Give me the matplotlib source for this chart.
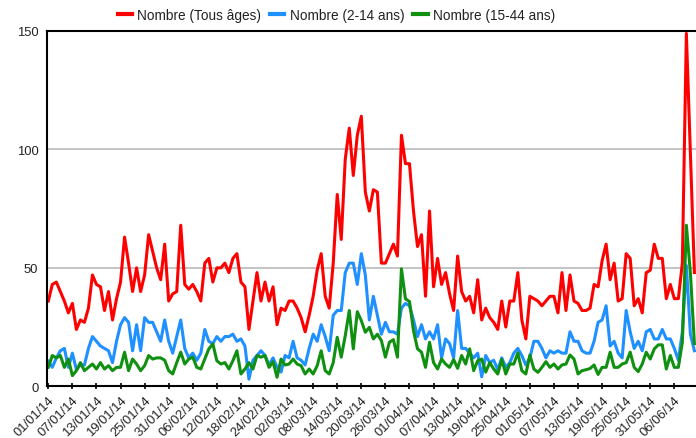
import numpy as np
import matplotlib
matplotlib.use("Agg")
import matplotlib.pyplot as plt

plt.rcParams['font.family'] = ['Liberation Sans', 'DejaVu Sans']

series_names = ["Nombre (Tous âges)", "Nombre (2-14 ans)", "Nombre (15-44 ans)"]

tous_ages = [36, 43, 44, 40, 36, 31, 35, 24, 28, 27, 33, 47, 43, 42, 32, 40, 28, 37, 44, 63,
             52, 40, 50, 40, 47, 64, 57, 50, 45, 60, 36, 39, 40, 68, 43, 41, 43, 40, 36, 52,
             54, 44, 50, 50, 52, 48, 54, 56, 44, 42, 24, 36, 48, 36, 44, 36, 42, 26, 33, 32,
             36, 36, 33, 29, 23, 30, 38, 49, 56, 38, 33, 52, 81, 62, 96, 109, 89, 106, 114, 82,
             74, 83, 82, 52, 52, 56, 60, 55, 106, 94, 94, 74, 59, 64, 38, 74, 42, 54, 43, 48,
             39, 32, 55, 40, 36, 38, 31, 45, 28, 33, 29, 27, 24, 36, 25, 36, 36, 48, 28, 20,
             38, 37, 36, 34, 36, 38, 38, 31, 48, 32, 47, 36, 35, 32, 32, 33, 43, 42, 53, 60,
             45, 52, 36, 37, 56, 54, 34, 37, 31, 48, 49, 60, 54, 54, 37, 43, 37, 37, 52, 149,
             98, 48]

ans_2_14 = [10.6, 8, 12, 15, 16, 8, 14, 7, 9, 9, 16, 21, 19, 17, 16, 15, 10, 19, 26, 29,
            27, 15, 26, 15, 29, 27, 27, 23, 19, 28, 19, 14, 21, 28, 16, 12, 14, 11, 14, 24,
            19, 18, 21, 19, 21, 21, 22, 19, 20, 17, 3, 11, 13, 15, 13, 9, 12, 8, 6, 13,
            12, 19, 12, 11, 9, 16, 22, 19, 26, 21, 15, 30, 32, 32, 48, 52, 52, 43, 56, 47,
            28, 38, 30, 22, 27, 23, 23, 22, 33, 35, 34, 28, 21, 26, 20, 23, 20, 26, 12, 20,
            18, 12, 32, 16, 16, 14, 12, 14, 4, 13, 10, 11, 7, 12, 8, 10, 14, 16, 13, 9,
            12, 19, 19, 16, 12, 15, 14, 15, 14, 14, 23, 19, 19, 15, 14, 14, 19, 27, 28, 34,
            17, 19, 14, 12, 32, 23, 16, 19, 15, 23, 24, 20, 20, 24, 20, 20, 16, 11, 23, 51,
            22, 15]

ans_15_44 = [8, 13, 12, 13, 8, 11.5, 4.5, 6.6, 10, 6.6, 8, 9.4, 7.3, 10, 7.3, 8.7, 6.6, 8, 8, 14.4,
             6.6, 11.5, 9.4, 6.6, 8.7, 13, 11.5, 12, 12, 11, 6.6, 5.2, 10, 14.4, 9.4, 11.5, 12.3, 8, 7.3, 11.5,
             15.8, 17.9, 10.8, 9.4, 10, 7.3, 10.8, 15, 5.2, 7.3, 10, 7.3, 13, 12.3, 13, 8, 10.4, 3.8, 11.5, 9,
             9.4, 11.5, 9.4, 8.7, 5.2, 7.3, 5.2, 8.7, 15, 6.6, 5.2, 10, 20.7, 12.3, 21.4, 32, 15.8, 31.5, 27.7, 22.8,
             24.9, 20, 22, 19.3, 12.3, 18.6, 19.7, 12.3, 49.6, 36.9, 35.8, 23.5, 15.8, 14.4, 8, 18.6, 10, 7.3, 11.5, 9.4,
             8, 11.3, 7.6, 13, 9.4, 15.8, 6.6, 10.8, 11.5, 6, 10, 7.3, 5.2, 11.3, 5.2, 9.4, 9.4, 14.1, 6.6, 5.2,
             13.2, 7.3, 5.9, 8, 10.4, 8, 9.4, 7.3, 9, 9.4, 13.2, 11.5, 5.2, 6.6, 7, 7.5, 9, 5, 8, 8,
             14.4, 8, 8, 9.4, 10, 14.4, 8, 6.2, 9.4, 14.4, 11.5, 15.8, 17.5, 17.5, 7.3, 13, 8, 8, 18.6, 68,
             48, 18]

tick_labels = ["01/01/14", "07/01/14", "13/01/14", "19/01/14", "25/01/14", "31/01/14",
               "06/02/14", "12/02/14", "18/02/14", "24/02/14", "02/03/14", "08/03/14",
               "14/03/14", "20/03/14", "26/03/14", "01/04/14", "07/04/14", "13/04/14",
               "19/04/14", "25/04/14", "01/05/14", "07/05/14", "13/05/14", "19/05/14",
               "25/05/14", "31/05/14", "06/06/14"]
tick_step = 6
y_ticks = [0, 50, 100, 150]

colors = ["#ff0000", "#1e90ff", "#109010"]

W, H = 696, 439
fig = plt.figure(figsize=(W / 100, H / 100), dpi=100)
left_px, right_px, top_px, bottom_px = 46.7, 696, 32, 387.3
ax = fig.add_axes([left_px / W, 1 - bottom_px / H, (right_px - left_px) / W, (bottom_px - top_px) / H])

days = np.arange(len(tous_ages))
lines = []
for vals, c, name in zip([tous_ages, ans_2_14, ans_15_44], colors, series_names):
    ln, = ax.plot(days[:len(vals)], vals, color=c, lw=2.2, label=name, solid_joinstyle='round')
    lines.append(ln)

ax.set_xlim(-0.4, 161.4)
ax.set_ylim(0, 150)

ticks = np.arange(len(tick_labels)) * tick_step
ax.set_xticks(ticks)
ax.set_xticklabels(tick_labels, rotation=45, ha='right', va='top', rotation_mode='anchor',
                   fontsize=9.4, color='#222222')
ax.tick_params(axis='x', direction='inout', length=5, width=1.2, color='black', pad=3)
ax.set_yticks(y_ticks)
ax.set_yticklabels([str(v) for v in y_ticks], fontsize=9.4, color='#222222')
ax.tick_params(axis='y', length=0, pad=6)

ax.grid(axis='y', color='#c4c4c4', lw=1.4)
ax.set_axisbelow(True)
for s in ['left', 'bottom', 'top']:
    ax.spines[s].set_color('black')
    ax.spines[s].set_linewidth(1.5)
ax.spines['right'].set_visible(False)

leg = fig.legend(handles=lines, loc='center', bbox_to_anchor=(336.5 / W, 1 - 16 / H), ncol=3,
                 frameon=False, fontsize=9.8, handlelength=1.05, handletextpad=0.4,
                 columnspacing=0.65, borderaxespad=0)
for t in leg.get_texts():
    t.set_color('#222222')
for h in leg.legend_handles:
    h.set_linewidth(3)

fig.savefig("out.png", dpi=100)
